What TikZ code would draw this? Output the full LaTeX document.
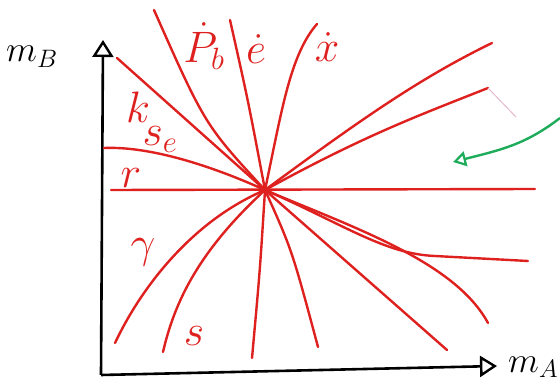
\RequirePackage{fix-cm}
\documentclass[tikz,border=0pt]{standalone}
\usetikzlibrary{arrows.meta}
\definecolor{lred}{RGB}{222,32,30}
\definecolor{lgreen}{RGB}{30,172,90}
\definecolor{lpink}{RGB}{228,185,205}

\begin{document}
\begin{tikzpicture}[x=1pt, y=-1pt,
    axis/.style={line width=2.6pt, -{Triangle[open, length=17pt, width=21pt, line width=2.4pt]}},
    ray/.style={draw=lred, line width=2.4pt, line cap=round},
    lbl/.style={text=lred, font=\fontsize{44}{44}\selectfont, inner sep=0pt, anchor=base},
    axlbl/.style={font=\fontsize{36}{36}\selectfont, inner sep=0pt, anchor=base west}]
    \useasboundingbox (0,0) rectangle (560,390);

    % centre and free ends
    \coordinate (c) at (265,190);
    \coordinate (o) at (101,375);
    \coordinate (ytop) at (103,40);
    \coordinate (xend) at (497,366);
    \coordinate (kend) at (117,58);
    \coordinate (seend) at (104,148);
    \coordinate (pbend) at (154,10);
    \coordinate (eend) at (230,20);
    \coordinate (xdend) at (317,24);
    \coordinate (ur1) at (492,43);
    \coordinate (ur2) at (488,88);
    \coordinate (tick) at (516,117);
    \coordinate (rl) at (111,190);
    \coordinate (rr) at (535,189);
    \coordinate (lr1) at (528,261);
    \coordinate (lr2) at (488,323);
    \coordinate (lr3) at (447,350);
    \coordinate (lr4) at (318,347);
    \coordinate (dn) at (252,358);
    \coordinate (send) at (163,352);
    \coordinate (gend) at (115,343);
    \coordinate (gstart) at (560,118);
    \coordinate (gtip) at (453,162);

    % axes
    \draw[axis] (o) -- (ytop);
    \draw[axis] (o) -- (xend);

    % rays
    \draw[ray] (c) -- (kend);
    \draw[ray] (c) .. controls (212,166) and (150,146) .. (seend);
    \draw[ray] (c) .. controls (205,125) .. (pbend);
    \draw[ray] (c) .. controls (248,100) .. (eend);
    \draw[ray] (c) .. controls (282,110) and (290,55) .. (xdend);
    \draw[ray] (c) .. controls (360,120) and (420,78) .. (ur1);
    \draw[ray] (c) .. controls (365,135) and (420,115) .. (ur2);
    \draw[lpink, line width=1pt] (ur2) -- (tick);
    \draw[ray] (rl) -- (rr);
    \draw[ray] (c) .. controls (345,225) and (385,254) .. (435,256) -- (lr1);
    \draw[ray] (c) .. controls (355,228) and (455,262) .. (lr2);
    \draw[ray] (c) -- (lr3);
    \draw[ray] (c) .. controls (292,250) .. (lr4);
    \draw[ray] (c) .. controls (260,270) .. (dn);
    \draw[ray] (c) .. controls (200,250) and (175,300) .. (send);
    \draw[ray] (c) .. controls (190,222) and (140,290) .. (gend);

    % green pointer
    \draw[lgreen, line width=2.4pt, -{Triangle[open, length=13pt, width=15pt, line width=2.2pt]}]
        (gstart) .. controls (525,145) and (500,150) .. (gtip);

    % labels
    \node[axlbl] (mb) at (6,62) {$m_B$};
    \node[axlbl] (ma) at (508,372) {$m_A$};
    \node[lbl] (k) at (138,123) {$k$};
    \node[lbl] (se) at (160,146) {$s_e$};
    \node[lbl] (r) at (131,188) {$r$};
    \node[lbl] (g) at (143,258) {$\gamma$};
    \node[lbl] (s) at (194,345) {$s$};
    \node[lbl] (pb) at (204,63) {$\dot P_b$};
    \node[lbl] (e) at (256,64) {$\dot e$};
    \node[lbl] (xd) at (327,62) {$\dot x$};
\end{tikzpicture}
\end{document}
